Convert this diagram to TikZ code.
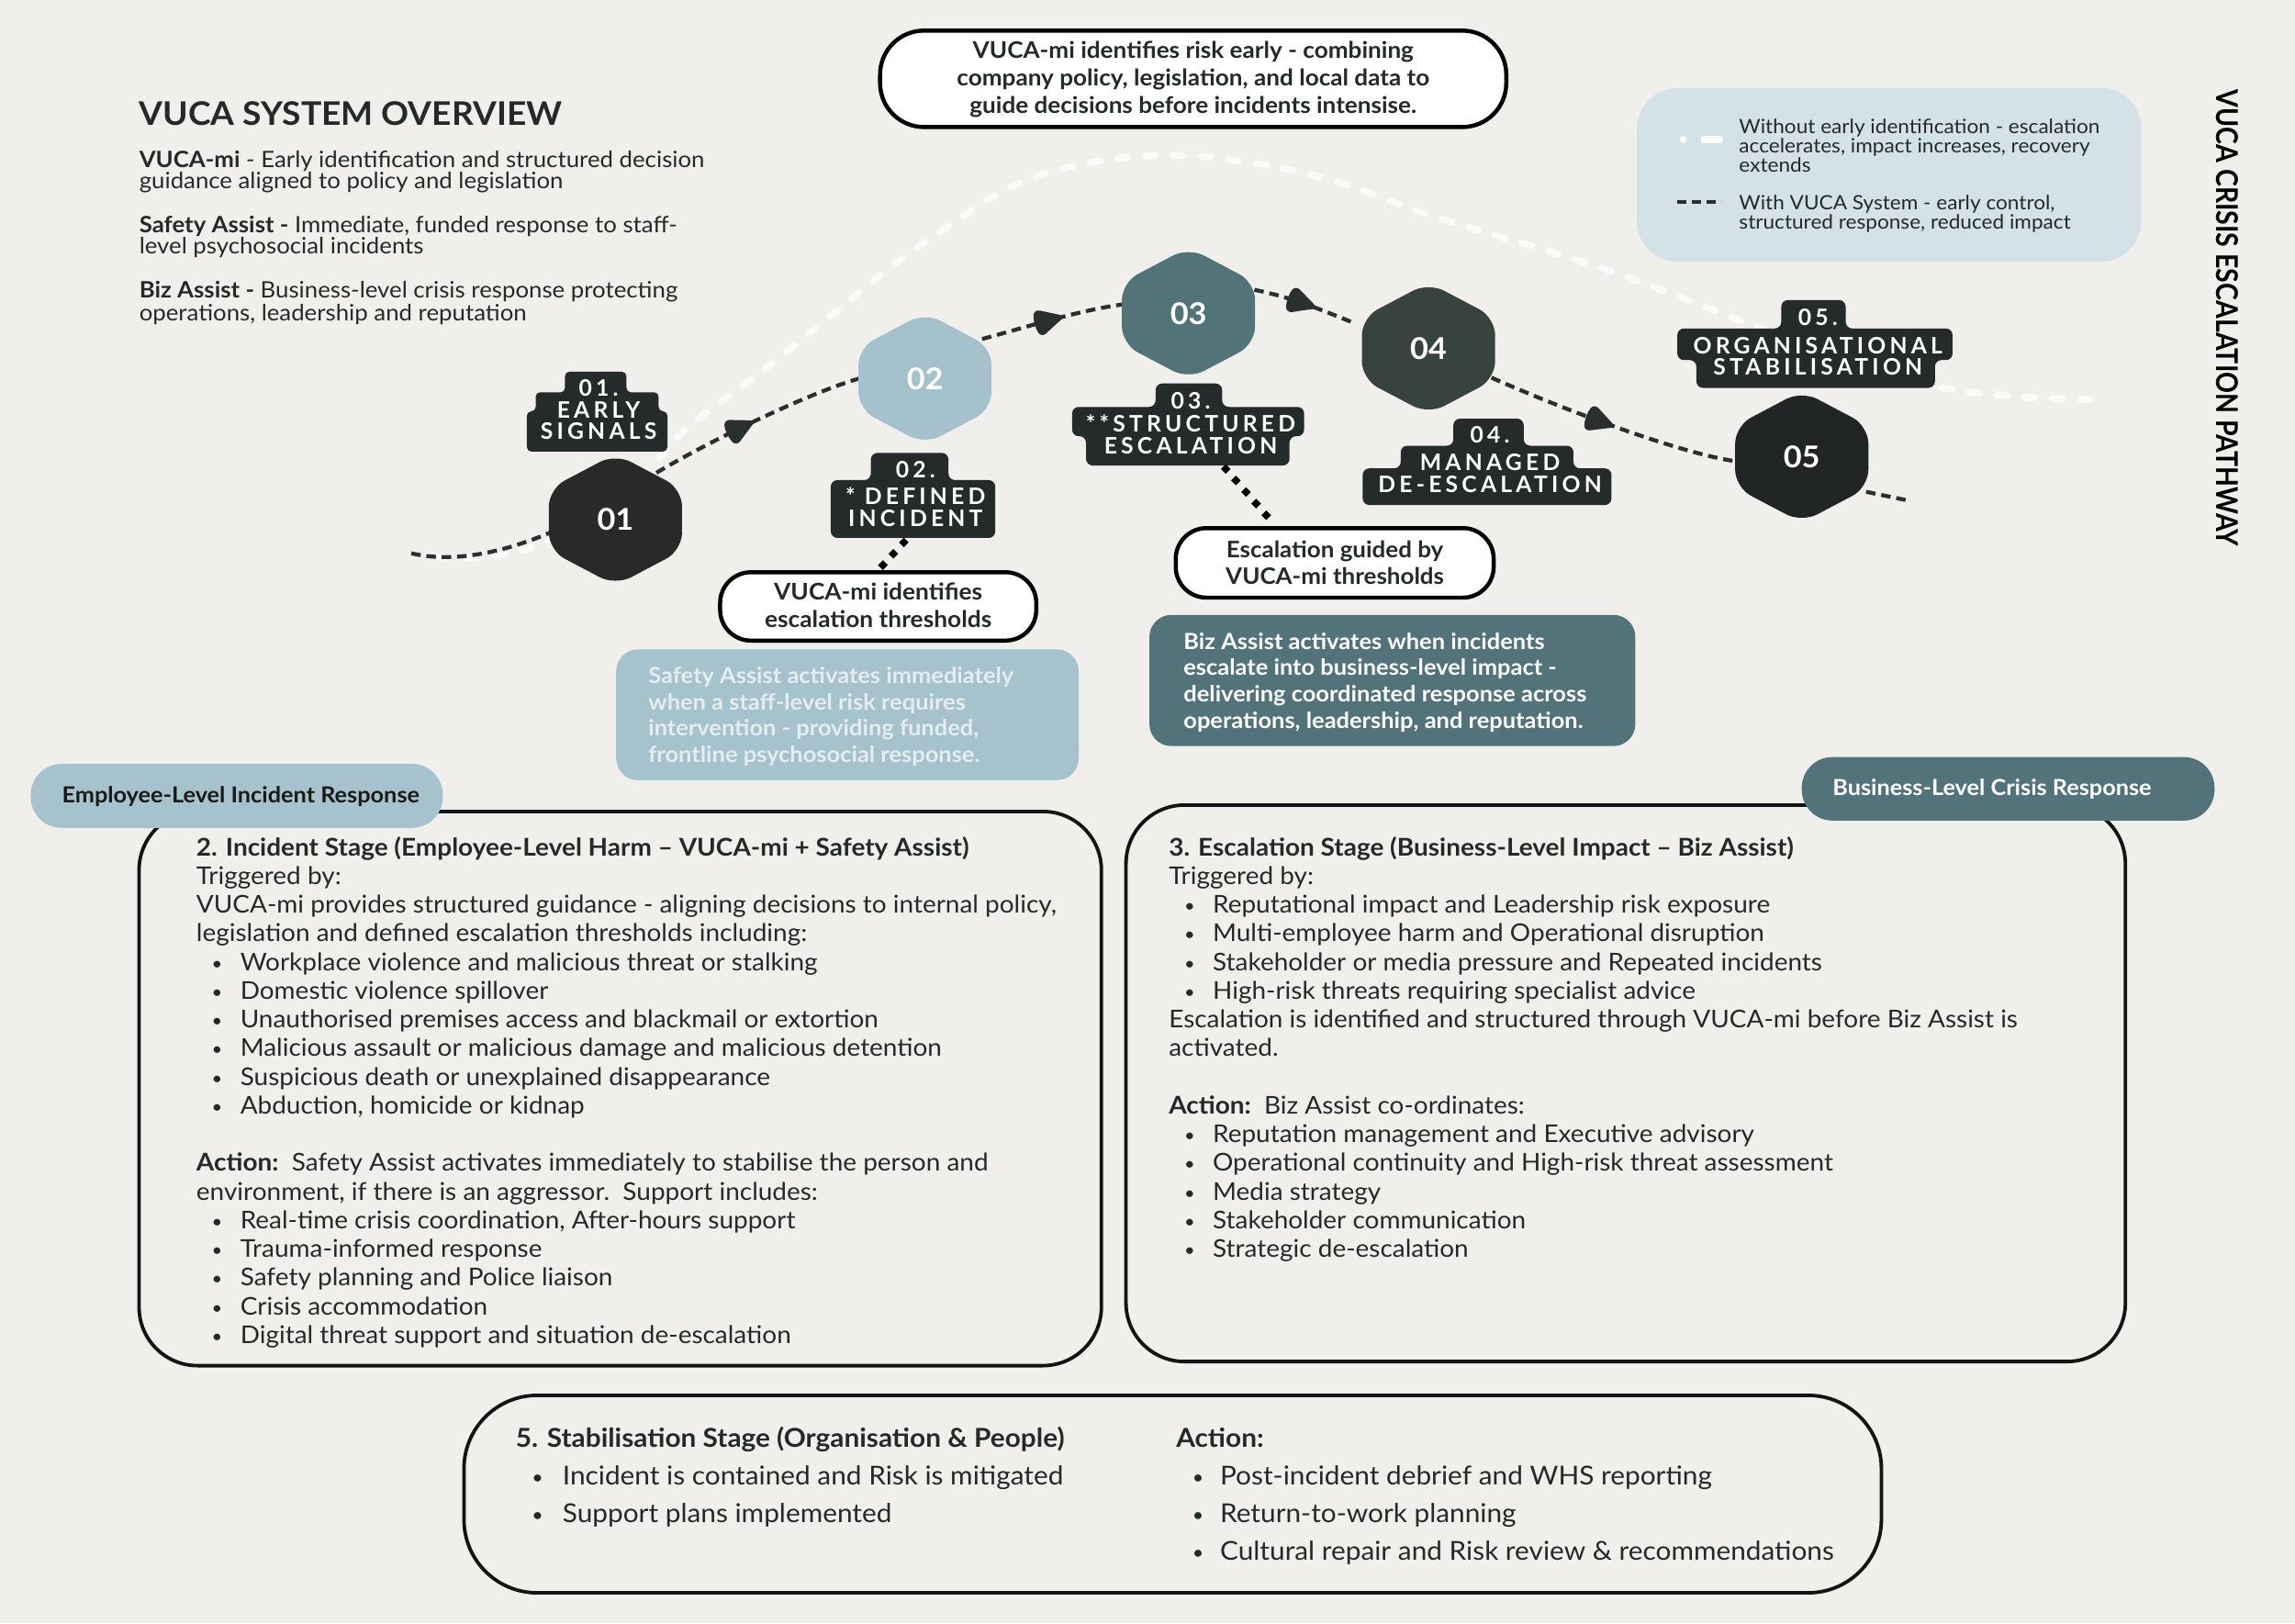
\documentclass[tikz,border=0pt]{standalone}
\usepackage{fontspec}
\usepackage{graphicx}
\setmainfont{Lato}[FakeStretch=1.05]
\newfontfamily\tagfont{Lato}[LetterSpace=17]
\usetikzlibrary{decorations.markings,calc}
\pgfdeclarelayer{curves}
\pgfsetlayers{curves,main}
\definecolor{bgc}{HTML}{F0EFEC}
\definecolor{ink}{HTML}{24292A}
\definecolor{tagc}{HTML}{252B2A}
\definecolor{hexa}{HTML}{282929}
\definecolor{hexb}{HTML}{A5C1CC}
\definecolor{hexc}{HTML}{527479}
\definecolor{hexd}{HTML}{37433F}
\definecolor{hexe}{HTML}{212526}
\definecolor{legc}{HTML}{D4E2E8}
\definecolor{lblue}{HTML}{A5C2CD}
\definecolor{tealc}{HTML}{52737A}
\definecolor{wcurve}{HTML}{FAFAF8}
\definecolor{dashc}{HTML}{2A302F}
\definecolor{paletext}{HTML}{E6EDF0}
\newcommand\fsz[2]{\fontsize{#1}{#2}\selectfont}
\newcommand\smallbullet{\raisebox{0.6pt}{\scalebox{0.72}{\textbullet}}}
\newcommand\bitemx[3]{\hspace*{#1}\makebox[#2][l]{\smallbullet}#3}
\newcommand\bitem[1]{\bitemx{10.5pt}{19.5pt}{#1}}
\newcommand\bitemB[1]{\bitemx{11pt}{21pt}{#1}}
\newcommand\bitemC[1]{\bitemx{11pt}{19pt}{#1}}
\newcommand\hexshape[3]{%
  \fill[#3, rounded corners=12pt, shift={(#1,#2)}] (22.75,-33) -- (45.5,-21) -- (45.5,21) -- (0,45) -- (-45.5,21) -- (-45.5,-21) -- (0,-45) -- cycle;}
\tikzset{
  txt/.style={anchor=base west, inner sep=0pt, text=ink},
  ctxt/.style={anchor=base, inner sep=0pt, text=ink},
  hexnum/.style={circle, minimum size=84pt, inner sep=0pt, text=white, font=\bfseries\fsz{20.5}{20}},
  tagshape/.style={fill=tagc, rounded corners=4.5pt},
  tagtext/.style={anchor=base, inner sep=0pt, text=white, font=\tagfont\bfseries\fsz{15.5}{14.7}},
  dashline/.style={draw=dashc, line width=2.7pt, dash pattern=on 6.5pt off 4pt},
  arrowmark/.style={postaction={decorate, decoration={markings, mark=at position #1 with {\fill[dashc, rounded corners=4pt] (2.5,5) -- (-7,10) .. controls (-9.5,3) and (-9.5,-3) .. (-7,-10) -- (12.5,0) -- cycle;}}}},
  whiteline/.style={draw=wcurve, line width=4.8pt, line cap=round, dash pattern=on 7pt off 12pt},
  callout/.style={draw=black, line width=2.8pt, fill=white, rounded corners=#1, inner sep=0pt},
  infobox/.style={rounded corners=15pt, inner sep=0pt},
  bigbox/.style={draw=black!92, line width=2.4pt, rounded corners=#1, inner sep=0pt},
  pill/.style={rounded corners=21pt, inner sep=0pt},
  dotconn/.style={decoration={markings, mark=between positions 0.08 and 1 step 10.5pt with {\pgftransformresetnontranslations\fill[black] (0,-3.3) -- (3.3,0) -- (0,3.3) -- (-3.3,0) -- cycle;}}, decorate},
}
\begin{document}
\begin{tikzpicture}[x=1pt, y=-1pt]
\useasboundingbox (0,0) rectangle (1568,1108.9);
\begin{pgfonlayer}{curves}
  \fill[bgc] (0,0) rectangle (1568,1108.9);
\end{pgfonlayer}

% ---------- hexagons ----------
\hexshape{420.5}{355}{hexa}
\node[hexnum] (h01) at (420.5,355) {01};
\hexshape{632}{258.6}{hexb}
\node[hexnum] (h02) at (632,258.6) {02};
\hexshape{812}{214}{hexc}
\node[hexnum] (h03) at (812,214) {03};
\hexshape{976}{238}{hexd}
\node[hexnum] (h04) at (976,238) {04};
\hexshape{1231}{312}{hexe}
\node[hexnum] (h05) at (1231,312) {05};

\coordinate (s0) at (281,378);
\coordinate (e5) at (1304,342);

% ---------- curves ----------
\begin{pgfonlayer}{curves}
  \draw[whiteline] plot[smooth, tension=0.6] coordinates {(300,381) (335,380) (368,372) (405,352) (445,318) (471,291) (515,258) (555,226) (599,190) (640,160) (690,128) (740,112) (800,106) (860,112) (916,125) (980,148) (1066,174) (1114,190) (1194,221) (1260,248) (1322,264) (1380,271) (1431,273)};
  \draw[dashline] (s0) .. controls (310,385) and (345,377) .. ($(h01)+(-45,9)$);
  \draw[dashline, arrowmark=0.42] ($(h01)+(28,-32)$) .. controls +(35,-21) and +(-35,10) .. ($(h02)+(-45,0)$);
  \draw[dashline, arrowmark=0.47] ($(h02)+(39,-27)$) .. controls +(30,-8) and +(-30,4) .. ($(h03)+(-45,-6)$);
  \draw[dashline, arrowmark=0.45] ($(h03)+(45,-16)$) .. controls +(25,5) and +(-25,-10) .. ($(h04)+(-50,-17)$);
  \draw[dashline, arrowmark=0.45] ($(h04)+(43,20)$) .. controls +(45,20) and +(-40,-6) .. ($(h05)+(-46,3)$);
  \draw[dashline] ($(h05)+(44,24)$) -- (e5);
\end{pgfonlayer}

% ---------- tags ----------
\fill[tagshape, rounded corners=3pt] (407,254) -- (428,254) -- (428,268) -- (450,268) -- (450,281) -- (456,281) -- (456,308.5) -- (360,308.5) -- (360,281) -- (366,281) -- (366,268) -- (386,268) -- (386,254) -- cycle;
\node[tagtext] (t01) at (409,270.7) {\parbox[t]{150pt}{\centering 01.\\EARLY\\SIGNALS}};

\fill[tagshape] (621.5,309.4) -- (648,309.4) -- (648,328) -- (680,328) -- (680,367.5) -- (567.6,367.5) -- (567.6,328) -- (595,328) -- (595,309.4) -- cycle;
\node[tagtext] (t02) at (625.5,326.2) {\parbox[t]{150pt}{\centering 02.\\[4pt]* DEFINED\\INCIDENT}};

\fill[tagshape] (812,262) -- (835,262) -- (835,278) -- (891,278) -- (891,298) -- (881,298) -- (881,318) -- (742,318) -- (742,298) -- (732.5,298) -- (732.5,278) -- (789.5,278) -- (789.5,262) -- cycle;
\node[tagtext] (t03) at (813.5,279.6) {\parbox[t]{200pt}{\centering 03.\\[1pt]**STRUCTURED\\ESCALATION}};

\fill[tagshape] (1017,286) -- (1041,286) -- (1041,304.5) -- (1075,304.5) -- (1075,320) -- (1101,320) -- (1101,345) -- (931,345) -- (931,320) -- (957,320) -- (957,304.5) -- (993,304.5) -- (993,286) -- cycle;
\node[tagtext] (t04) at (1018,302.4) {\parbox[t]{200pt}{\centering 04.\\[4.5pt]MANAGED\\DE-ESCALATION}};

\fill[tagshape] (1239,205) -- (1261,205) -- (1261,224.4) -- (1334,224.4) -- (1334,246) -- (1322,246) -- (1322,265) -- (1159,265) -- (1159,246) -- (1146,246) -- (1146,224.4) -- (1217,224.4) -- (1217,205) -- cycle;
\node[tagtext] (t05) at (1242,222.4) {\parbox[t]{220pt}{\centering 05.\\[4.6pt]ORGANISATIONAL\\STABILISATION}};

\coordinate (t02b) at (619,369);
\coordinate (t03b) at (834.5,317);

% ---------- callouts ----------
\node[callout=30pt, minimum width=427.8pt, minimum height=65.9pt] (c00) at (815.2,53.85) {};
\node[ctxt] (c00t) at (815.2,40) {\parbox[t]{420pt}{\centering\bfseries\fsz{15.6}{18.8}VUCA-mi identifies risk early - combining\\company policy, legislation, and local data to\\guide decisions before incidents intensise.}};

\node[callout=21pt, minimum width=216pt, minimum height=46.7pt] (c02) at (600,414.3) {};
\node[ctxt] (c02t) at (600,409.6) {\parbox[t]{210pt}{\centering\bfseries\fsz{15.7}{19.2}VUCA-mi identifies\\escalation thresholds}};

\node[callout=21pt, minimum width=217.2pt, minimum height=47.5pt] (c03) at (911.9,384.55) {};
\node[ctxt] (c03t) at (912,380.9) {\parbox[t]{210pt}{\centering\bfseries\fsz{15.5}{18}Escalation guided by\\VUCA-mi thresholds}};

\path[dotconn] (t02b) -- (c02.north);
\path[dotconn] (t03b) -- (c03.148);

% ---------- info boxes ----------
\node[infobox, fill=lblue, minimum width=316pt, minimum height=89.4pt] (sabox) at (579,488.3) {};
\node[txt, text=paletext] (sat) at (442.8,467) {\parbox[t]{300pt}{\raggedright\bfseries\fsz{15.2}{18}Safety Assist activates immediately\\when a staff-level risk requires\\intervention - providing funded,\\frontline psychosocial response.}};

\node[infobox, fill=tealc, minimum width=332pt, minimum height=89.6pt] (bzbox) at (951.3,464.9) {};
\node[txt, text=white] (bzt) at (808.5,443.5) {\parbox[t]{320pt}{\raggedright\bfseries\fsz{15.2}{18.1}Biz Assist activates when incidents\\escalate into business-level impact -\\delivering coordinated response across\\operations, leadership, and reputation.}};

% ---------- overview ----------
\node[txt, font=\bfseries\fsz{22.2}{22}] (title) at (95,85.7) {VUCA SYSTEM OVERVIEW};
\node[txt] (ov1) at (95,114.6) {\parbox[t]{460pt}{\raggedright\fsz{15.4}{14.2}\textbf{VUCA-mi} - Early identification and structured decision\\guidance aligned to policy and legislation}};
\node[txt] (ov2) at (95,158.9) {\parbox[t]{460pt}{\raggedright\fsz{15.4}{14.4}\textbf{Safety Assist -} Immediate, funded response to staff-\\level psychosocial incidents}};
\node[txt] (ov3) at (95,203.8) {\parbox[t]{460pt}{\raggedright\fsz{15.4}{13.8}\textbf{Biz Assist -} Business-level crisis response protecting\\operations, leadership and reputation}};

% ---------- legend ----------
\node[fill=legc, rounded corners=28pt, minimum width=344.7pt, minimum height=118.8pt, inner sep=0pt] (legend) at (1290.65,119.4) {};
\draw[draw=wcurve, line width=4.8pt, line cap=round] (1150,95.3) -- (1150.1,95.3);
\draw[draw=wcurve, line width=4.8pt, line cap=round] (1164,95.3) -- (1175,95.3);
\draw[draw=dashc, line width=3pt, dash pattern=on 6pt off 4pt] (1146,138) -- (1176,138);
\node[txt] (lg1) at (1188,91.3) {\parbox[t]{290pt}{\raggedright\fsz{13.5}{11.4}Without early identification - escalation\\accelerates, impact increases, recovery\\extends}};
\node[txt] (lg2) at (1188,143.5) {\parbox[t]{290pt}{\raggedright\fsz{13.5}{12}With VUCA System - early control,\\structured response, reduced impact}};

\node[rotate=-90, inner sep=0pt, text=black] (vtitle) at (1521.5,217.2) {\resizebox{312pt}{15pt}{\bfseries VUCA CRISIS ESCALATION PATHWAY}};

% ---------- big boxes ----------
\node[bigbox=40pt, minimum width=657.5pt, minimum height=378.6pt] (box2) at (423.75,743.7) {};
\node[bigbox=40pt, minimum width=682.8pt, minimum height=380.2pt] (box3) at (1110.7,740.1) {};
\node[bigbox=50pt, minimum width=968.4pt, minimum height=134.9pt] (box5) at (801.2,1020.75) {};

\node[pill, fill=lblue, minimum width=281.5pt, minimum height=43.7pt] (pillE) at (161.75,543.75) {};
\node[ctxt, font=\bfseries\fsz{15.1}{15}, text=black!90] (pillEt) at (164.5,548.6) {Employee-Level Incident Response};
\node[pill, fill=tealc, minimum width=282pt, minimum height=43.4pt] (pillB) at (1372,538.9) {};
\node[ctxt, font=\bfseries\fsz{15.1}{15}, text=white] (pillBt) at (1361,543.6) {Business-Level Crisis Response};

\node[txt] (b2t) at (134,584.6) {\parbox[t]{640pt}{\raggedright\fsz{16.7}{19.6}%
\textbf{2. Incident Stage (Employee-Level Harm – VUCA-mi + Safety Assist)}\\
Triggered by:\\
VUCA-mi provides structured guidance - aligning decisions to internal policy,\\
legislation and defined escalation thresholds including:\\
\bitem{Workplace violence and malicious threat or stalking}\\
\bitem{Domestic violence spillover}\\
\bitem{Unauthorised premises access and blackmail or extortion}\\
\bitem{Malicious assault or malicious damage and malicious detention}\\
\bitem{Suspicious death or unexplained disappearance}\\
\bitem{Abduction, homicide or kidnap}\\
\mbox{}\\
\textbf{Action:}\ \ Safety Assist activates immediately to stabilise the person and\\
environment, if there is an aggressor.\ \ Support includes:\\
\bitem{Real-time crisis coordination, After-hours support}\\
\bitem{Trauma-informed response}\\
\bitem{Safety planning and Police liaison}\\
\bitem{Crisis accommodation}\\
\bitem{Digital threat support and situation de-escalation}}};

\node[txt] (b3t) at (798.4,584.6) {\parbox[t]{640pt}{\raggedright\fsz{16.7}{19.6}%
\textbf{3. Escalation Stage (Business-Level Impact – Biz Assist)}\\
Triggered by:\\
\bitem{Reputational impact and Leadership risk exposure}\\
\bitem{Multi-employee harm and Operational disruption}\\
\bitem{Stakeholder or media pressure and Repeated incidents}\\
\bitem{High-risk threats requiring specialist advice}\\
Escalation is identified and structured through VUCA-mi before Biz Assist is\\
activated.\\
\mbox{}\\
\textbf{Action:}\ \ Biz Assist co-ordinates:\\
\bitem{Reputation management and Executive advisory}\\
\bitem{Operational continuity and High-risk threat assessment}\\
\bitem{Media strategy}\\
\bitem{Stakeholder communication}\\
\bitem{Strategic de-escalation}}};

\node[txt] (b5l) at (352.2,988.9) {\parbox[t]{440pt}{\raggedright\fsz{17.8}{25.6}%
\textbf{5. Stabilisation Stage (Organisation \& People)}\\
\bitemB{Incident is contained and Risk is mitigated}\\
\bitemB{Support plans implemented}}};
\node[txt] (b5r) at (803.4,988.9) {\parbox[t]{470pt}{\raggedright\fsz{17.8}{25.6}%
\textbf{Action:}\\
\bitemC{Post-incident debrief and WHS reporting}\\
\bitemC{Return-to-work planning}\\
\bitemC{Cultural repair and Risk review \& recommendations}}};
\end{tikzpicture}
\end{document}
